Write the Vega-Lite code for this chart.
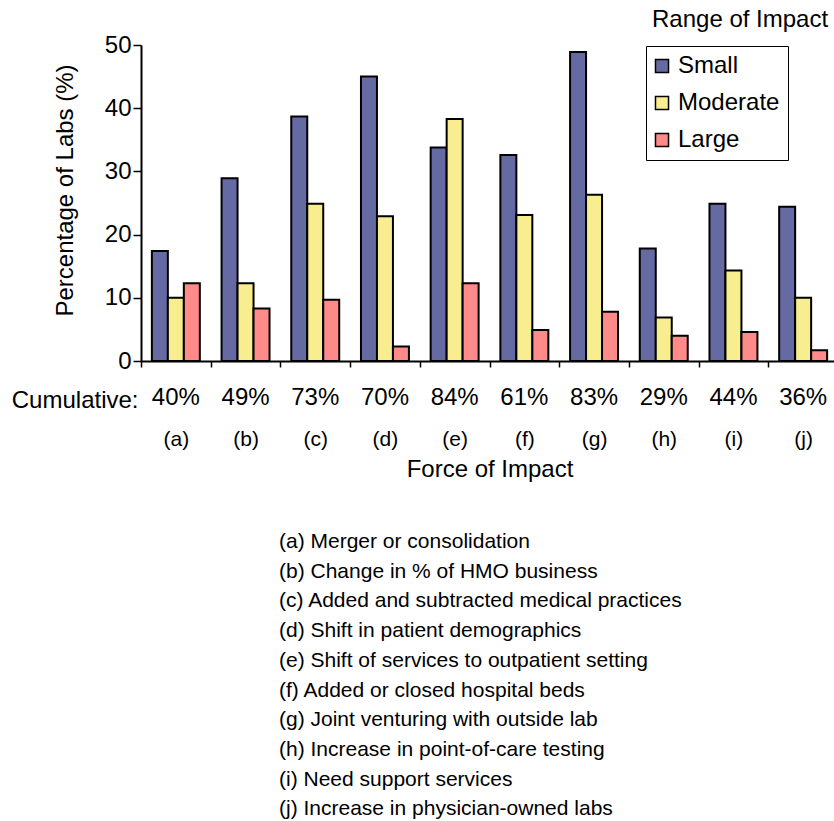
{
  "$schema": "https://vega.github.io/schema/vega-lite/v6.json",
  "padding": {"left": 11, "top": 8, "right": 0, "bottom": 0},
  "background": "white",
  "config": {
    "font": "Liberation Sans",
    "view": {"stroke": null},
    "axis": {"grid": false, "labelColor": "black", "titleColor": "black", "titleFontWeight": "normal", "labelFont": "Liberation Sans", "titleFont": "Liberation Sans"}
  },
  "datasets": {
    "bars": [
      {"force": "(a)", "range": "Small", "pct": 17.4},
      {"force": "(a)", "range": "Moderate", "pct": 10.0},
      {"force": "(a)", "range": "Large", "pct": 12.3},
      {"force": "(b)", "range": "Small", "pct": 28.9},
      {"force": "(b)", "range": "Moderate", "pct": 12.3},
      {"force": "(b)", "range": "Large", "pct": 8.3},
      {"force": "(c)", "range": "Small", "pct": 38.7},
      {"force": "(c)", "range": "Moderate", "pct": 24.9},
      {"force": "(c)", "range": "Large", "pct": 9.7},
      {"force": "(d)", "range": "Small", "pct": 45.0},
      {"force": "(d)", "range": "Moderate", "pct": 22.9},
      {"force": "(d)", "range": "Large", "pct": 2.3},
      {"force": "(e)", "range": "Small", "pct": 33.8},
      {"force": "(e)", "range": "Moderate", "pct": 38.3},
      {"force": "(e)", "range": "Large", "pct": 12.3},
      {"force": "(f)", "range": "Small", "pct": 32.6},
      {"force": "(f)", "range": "Moderate", "pct": 23.1},
      {"force": "(f)", "range": "Large", "pct": 4.9},
      {"force": "(g)", "range": "Small", "pct": 48.9},
      {"force": "(g)", "range": "Moderate", "pct": 26.3},
      {"force": "(g)", "range": "Large", "pct": 7.8},
      {"force": "(h)", "range": "Small", "pct": 17.8},
      {"force": "(h)", "range": "Moderate", "pct": 6.9},
      {"force": "(h)", "range": "Large", "pct": 4.0},
      {"force": "(i)", "range": "Small", "pct": 24.9},
      {"force": "(i)", "range": "Moderate", "pct": 14.3},
      {"force": "(i)", "range": "Large", "pct": 4.6},
      {"force": "(j)", "range": "Small", "pct": 24.4},
      {"force": "(j)", "range": "Moderate", "pct": 10.0},
      {"force": "(j)", "range": "Large", "pct": 1.7}
    ],
    "cats": [
      {"force": "(a)", "cumulative": "40%"},
      {"force": "(b)", "cumulative": "49%"},
      {"force": "(c)", "cumulative": "73%"},
      {"force": "(d)", "cumulative": "70%"},
      {"force": "(e)", "cumulative": "84%"},
      {"force": "(f)", "cumulative": "61%"},
      {"force": "(g)", "cumulative": "83%"},
      {"force": "(h)", "cumulative": "29%"},
      {"force": "(i)", "cumulative": "44%"},
      {"force": "(j)", "cumulative": "36%"}
    ]
  },
  "title": {
    "text": [
      "(a) Merger or consolidation",
      "(b) Change in % of HMO business",
      "(c) Added and subtracted medical practices",
      "(d) Shift in patient demographics",
      "(e) Shift of services to outpatient setting",
      "(f) Added or closed hospital beds",
      "(g) Joint venturing with outside lab",
      "(h) Increase in point-of-care testing",
      "(i) Need support services",
      "(j) Increase in physician-owned labs"
    ],
    "orient": "bottom",
    "anchor": "start",
    "align": "left",
    "frame": "group",
    "dx": 138,
    "offset": 50,
    "fontSize": 21,
    "fontWeight": "normal",
    "lineHeight": 29.7,
    "color": "black",
    "font": "Liberation Sans"
  },
  "vconcat": [
    {
      "width": 697,
      "height": 316,
      "title": {
        "text": "Range of Impact",
        "anchor": "start",
        "frame": "group",
        "dx": 511,
        "offset": 1,
        "fontSize": 24,
        "fontWeight": "normal",
        "color": "black",
        "font": "Liberation Sans"
      },
      "layer": [
        {
          "data": {"name": "bars"},
          "mark": {"type": "bar", "stroke": "black", "strokeWidth": 2},
          "encoding": {
            "x": {
              "field": "force",
              "type": "nominal",
              "sort": ["(a)", "(b)", "(c)", "(d)", "(e)", "(f)", "(g)", "(h)", "(i)", "(j)"],
              "scale": {"paddingInner": 0, "paddingOuter": 0},
              "axis": {
                "orient": "bottom",
                "labelAngle": 0,
                "labelFontSize": 21,
                "labelPadding": 61,
                "labelOverlap": false,
                "labelFlush": false,
                "domainColor": "black",
                "domainWidth": 2,
                "tickColor": "black",
                "tickWidth": 1.5,
                "tickSize": 6,
                "tickBand": "extent",
                "title": "Force of Impact",
                "titleFontSize": 24,
                "titlePadding": 8
              }
            },
            "xOffset": {
              "field": "range",
              "type": "nominal",
              "sort": ["Small", "Moderate", "Large"],
              "scale": {"paddingInner": 0, "paddingOuter": 0.68}
            },
            "y": {
              "field": "pct",
              "type": "quantitative",
              "scale": {"domain": [0, 50], "nice": false},
              "axis": {
                "values": [0, 10, 20, 30, 40, 50],
                "labelFontSize": 24,
                "labelPadding": 2,
                "domainColor": "black",
                "domainWidth": 2,
                "tickColor": "black",
                "tickWidth": 1.5,
                "tickSize": 8,
                "title": "Percentage of Labs (%)",
                "titleFontSize": 24,
                "titlePadding": 27,
                "titleY": 145
              }
            },
            "color": {
              "field": "range",
              "type": "nominal",
              "scale": {"domain": ["Small", "Moderate", "Large"], "range": ["#666AA3", "#F9EE8F", "#FF8A8A"]},
              "legend": {
                "title": null,
                "orient": "none",
                "legendX": 505,
                "legendY": 1,
                "direction": "vertical",
                "strokeColor": "black",
                "fillColor": "white",
                "padding": 8,
                "symbolType": "square",
                "symbolSize": 170,
                "symbolOffset": -4,
                "symbolStrokeColor": "black",
                "symbolStrokeWidth": 1.5,
                "symbolOpacity": 1,
                "labelFontSize": 24,
                "labelColor": "black",
                "labelFont": "Liberation Sans",
                "labelOffset": 4,
                "rowPadding": 13
              }
            }
          }
        },
        {
          "data": {"name": "cats"},
          "mark": {"type": "rule", "strokeOpacity": 0},
          "encoding": {
            "x": {
              "field": "cumulative",
              "type": "nominal",
              "sort": ["40%", "49%", "73%", "70%", "84%", "61%", "83%", "29%", "44%", "36%"],
              "scale": {"paddingInner": 0, "paddingOuter": 0},
              "axis": {
                "orient": "bottom",
                "labelAngle": 0,
                "labelFontSize": 24,
                "labelPadding": 24,
                "labelOverlap": false,
                "labelFlush": false,
                "domain": false,
                "ticks": false,
                "title": "Cumulative:",
                "titleFontSize": 24,
                "titleAlign": "right",
                "titleBaseline": "top",
                "titleX": -3,
                "titleY": 27,
                "titleAnchor": null
              }
            }
          }
        }
      ],
      "resolve": {"scale": {"x": "independent"}, "axis": {"x": "independent"}}
    }
  ]
}
